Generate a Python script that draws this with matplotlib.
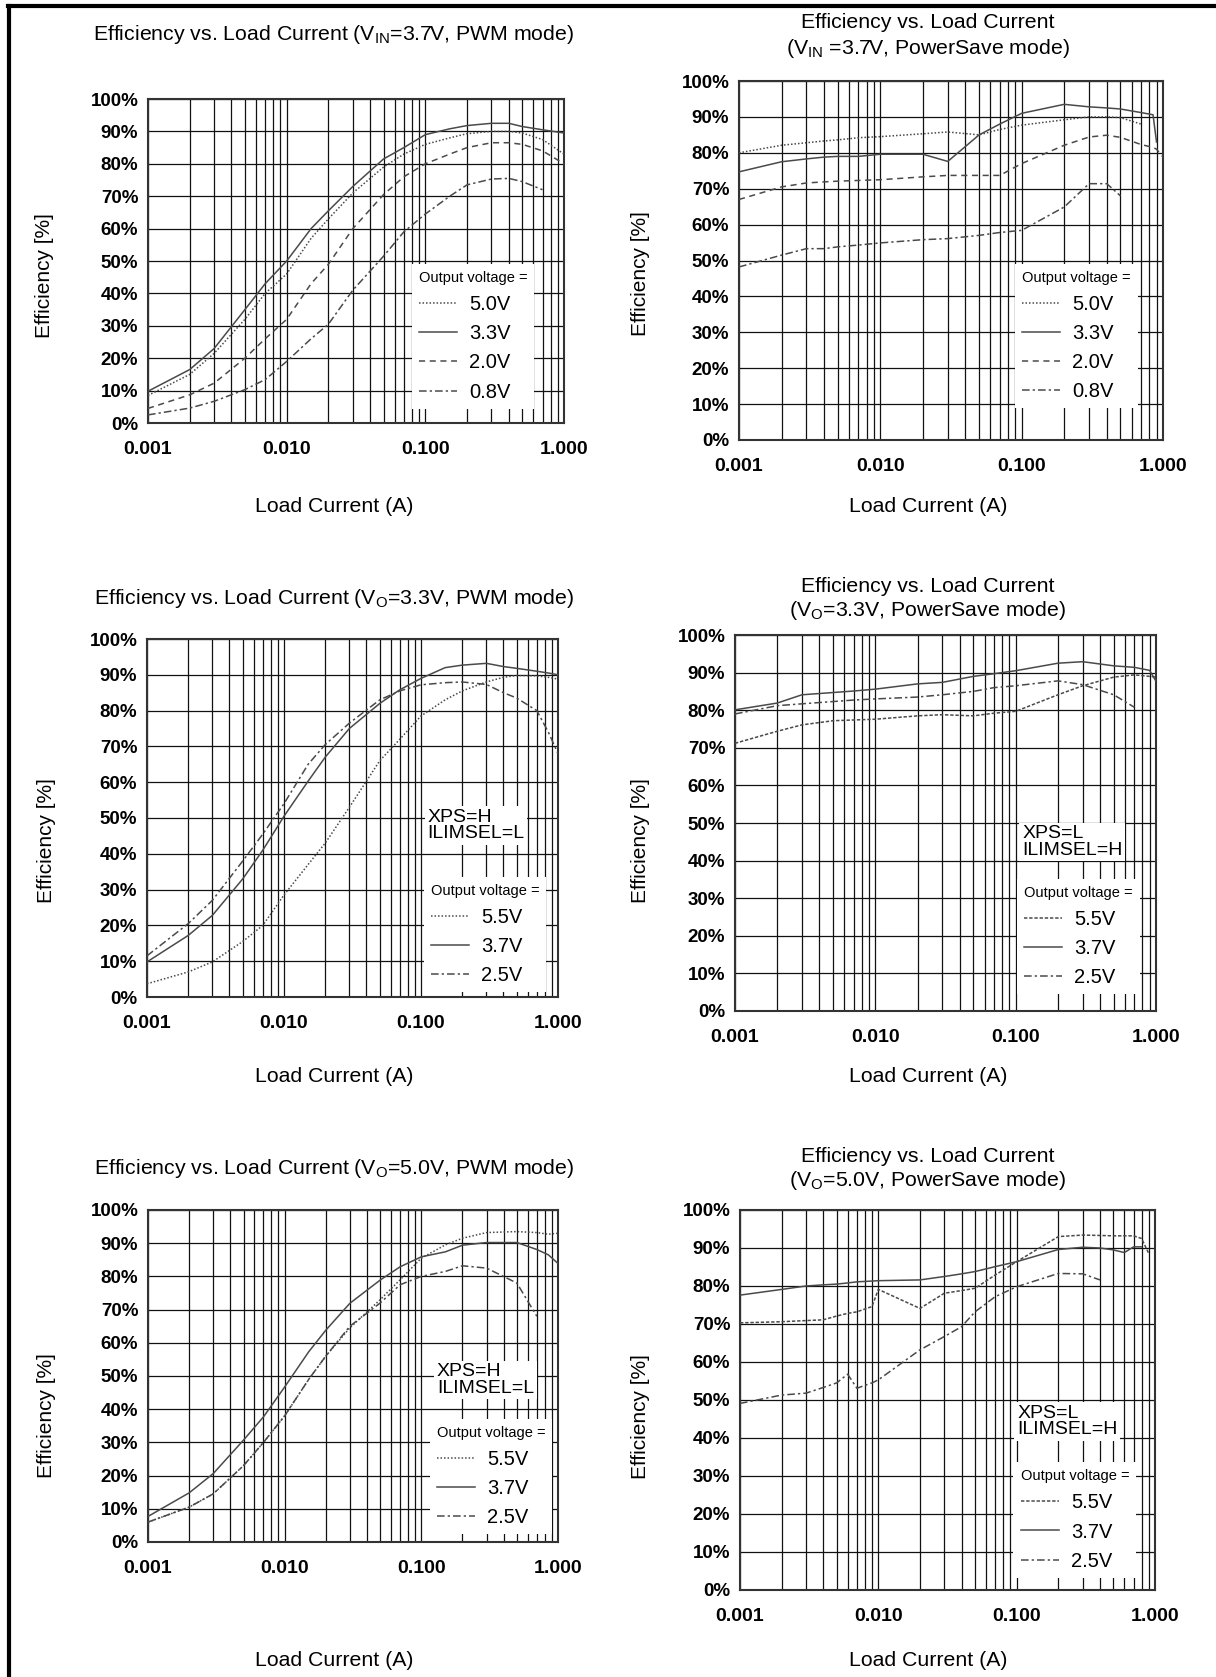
import numpy as np
import matplotlib
matplotlib.use('Agg')
import matplotlib.pyplot as plt
from matplotlib.ticker import LogLocator, NullFormatter
from matplotlib.lines import Line2D

plt.rcParams['font.family'] = ['Liberation Sans', 'DejaVu Sans']
plt.rcParams['mathtext.fontset'] = 'custom'
plt.rcParams['mathtext.rm'] = 'Liberation Sans'

W, H = 1216, 1677
nan = np.nan

# ---- data ----
# VIN = 3.7 V, PWM mode
pwm_vin37_current = [0.001, 0.002, 0.003, 0.005, 0.007, 0.01, 0.015, 0.02, 0.03, 0.05,
                     0.07, 0.1, 0.15, 0.2, 0.3, 0.4, 0.5, 0.7, 1.0]
pwm_vin37_50 = [8.5, 15, 21.5, 32, 40, 46, 57, 63, 71, 79, 83, 86, 88, 89.3, 90, 90, 89.5, 87.5, 83]
pwm_vin37_33 = [9.8, 16.5, 23, 35, 43, 50, 60, 65.5, 73, 81.5, 85, 89, 90.8, 91.8, 92.5, 92.5, 91.5, 90.5, 89.5]
pwm_vin37_20 = [4.5, 8.7, 12.3, 20, 26, 32, 43, 49, 60, 70.5, 76, 80, 83, 85, 86.5, 86.5, 86, 84, 80]
pwm_vin37_08 = [2.5, 4.6, 6.7, 10.3, 13.4, 19, 26, 30.5, 41, 51.5, 59, 64.5, 70, 73.5, 75.3, 75.5, 74.5, 72, nan]

# VIN = 3.7 V, PowerSave mode
ps_vin37_current = [0.001, 0.002, 0.003, 0.004, 0.005, 0.007, 0.01, 0.02, 0.03, 0.05,
                    0.07, 0.1, 0.2, 0.3, 0.4, 0.5, 0.7, 0.85, 0.9, 1.0]
ps_vin37_50 = [80.0, 82.1, 82.8, 83.3, 83.6, 84.2, 84.5, 85.3, 85.8, 85.0, 86.5, 87.7, 89.2, 90.0, 90.0, 89.8, 88.0, nan, nan, nan]
ps_vin37_33 = [74.7, 77.5, 78.3, 78.8, 79.0, 79.0, 79.6, 79.6, 77.6, 85.0, 88.0, 91.0, 93.5, 92.8, 92.5, 92.2, 91.2, 90.6, 83.0, nan]
ps_vin37_20 = [67.0, 70.5, 71.6, 71.9, 72.1, 72.3, 72.5, 73.3, 73.7, 73.7, 73.7, 77.0, 82.1, 84.4, 84.9, 84.3, 82.3, 81.5, 81.0, 78.8]
ps_vin37_08 = [48.2, 51.5, 53.3, 53.3, 53.8, 54.3, 54.9, 55.8, 56.1, 57.0, 57.8, 58.4, 64.9, 71.4, 71.4, 68.0, nan, nan, nan, nan]

# VO = 3.3 V, PWM mode
pwm_vo33_current = [0.001, 0.002, 0.003, 0.005, 0.007, 0.01, 0.015, 0.02, 0.03, 0.05,
                    0.07, 0.1, 0.15, 0.2, 0.3, 0.4, 0.5, 0.7, 0.85, 1.0]
pwm_vo33_55 = [3.7, 7, 9.8, 15.5, 20, 28.5, 37, 43, 53, 66, 72, 78.5, 83, 85.5, 88, 89.3, 89.8, 89.7, 89.3, 88.8]
pwm_vo33_37 = [9.8, 17.2, 22.8, 33, 41, 50.5, 60.3, 67, 75, 82, 85.8, 89, 92, 92.7, 93.2, 92.3, 91.8, 91, 90.5, 90]
pwm_vo33_25 = [11.5, 20.5, 27, 38, 45.5, 54, 65, 70.5, 76.5, 83, 85.5, 87.2, 87.8, 88, 87.3, 85, 83.5, 80, 74, 68]

# VO = 3.3 V, PowerSave mode
ps_vo33_current = [0.001, 0.002, 0.003, 0.005, 0.007, 0.01, 0.02, 0.03, 0.05, 0.07,
                   0.1, 0.2, 0.3, 0.5, 0.7, 0.9, 1.0]
ps_vo33_55 = [71.2, 74.4, 76.1, 77.2, 77.4, 77.6, 78.5, 78.8, 78.5, 79.2, 79.7, 84.1, 86.5, 88.8, 89.4, 89.0, 88.8]
ps_vo33_37 = [80.1, 81.9, 84.1, 84.7, 85.1, 85.6, 87.0, 87.4, 89.0, 89.7, 90.5, 92.5, 92.9, 91.8, 91.4, 90.6, 87.7]
ps_vo33_25 = [79.0, 81.2, 81.7, 82.3, 82.7, 83.0, 83.5, 84.1, 85.0, 86.0, 86.5, 87.8, 86.8, 84.1, 80.8, nan, nan]

# VO = 5.0 V, PWM mode
pwm_vo50_current = [0.001, 0.002, 0.003, 0.005, 0.007, 0.01, 0.015, 0.02, 0.03, 0.05,
                    0.07, 0.1, 0.15, 0.2, 0.3, 0.5, 0.7, 0.85, 1.0]
pwm_vo50_55 = [6, 10.5, 14.5, 23, 30, 38, 49, 56, 64.5, 73, 79, 85.5, 89.5, 91.5, 93.2, 93.5, 93.2, 92.7, 93]
pwm_vo50_37 = [7.7, 14.8, 20.6, 30.7, 37.7, 46.7, 57.3, 63.8, 71.9, 78.9, 82.9, 85.9, 87.4, 89.4, 90.2, 90.2, 88.1, 86.5, 83.9]
pwm_vo50_25 = [6, 10.5, 14.5, 23, 30, 38, 49, 56, 65, 72, 77.5, 80, 81.5, 83.2, 82.5, 78, 68, nan, nan]

# VO = 5.0 V, PowerSave mode
ps_vo50_current = [0.001, 0.002, 0.003, 0.004, 0.005, 0.006, 0.007, 0.009, 0.01, 0.02, 0.03, 0.04,
                   0.05, 0.07, 0.1, 0.2, 0.3, 0.4, 0.5, 0.6, 0.7, 0.8, 0.9]
ps_vo50_55 = [70.3, 70.6, 70.9, 71.1, 72.1, 72.8, 73.2, 74.6, 79.1, 74.1, 78.1, 78.8,
              79.4, 82.9, 86.4, 93.0, 93.4, 93.3, 93.2, 93.2, 93.2, 92.5, 88.6]
ps_vo50_37 = [77.6, 79.1, 80.0, 80.3, 80.5, 80.8, 81.1, 81.3, 81.4, 81.6, 82.5, 83.2,
              83.8, 85.1, 86.4, 89.6, 90.2, 90.0, 89.5, 88.8, 90.3, 90.3, nan]
ps_vo50_25 = [49.1, 51.3, 51.8, 53.3, 54.5, 56.8, 53.1, 54.5, 55.3, 63.2, 66.7, 69.3,
              73.2, 77.2, 79.8, 83.3, 83.2, 81.6, nan, nan, nan, nan, nan]

# ---- styles ----
CURVE = '#4a4a4a'
DOT = (0, (1, 1.3))
FINE = (0, (2.2, 1.2))
DASH = (0, (4, 3))
DASHDOT = (0, (5, 2, 1.5, 2))
SOLID = '-'

fig = plt.figure(figsize=(W / 100, H / 100), dpi=100)


def fx(px):
    return px / W


def fy(py):
    return 1 - py / H


def panel(box, title_lines, title_x, title_ys, ylab_xy, xlab_xy, currents, effs, labels,
          styles, leg_xy, note=None, note_xy=None):
    left, right, top, bottom = box
    ax = fig.add_axes([fx(left), fy(bottom), (right - left) / W, (bottom - top) / H])
    handles = []
    for eff, ls in zip(effs, styles):
        h, = ax.plot(currents, eff, color=CURVE, lw=1.1, linestyle=ls, zorder=3)
        handles.append(h)
    ax.set_xscale('log')
    ax.set_xlim(0.001, 1.0)
    ax.set_ylim(0, 100)
    ax.set_xticks([0.001, 0.01, 0.1, 1.0])
    ax.set_xticklabels(['0.001', '0.010', '0.100', '1.000'], fontweight='bold', fontsize=14)
    ax.xaxis.set_minor_locator(LogLocator(base=10, subs=np.arange(2, 10)))
    ax.xaxis.set_minor_formatter(NullFormatter())
    ax.set_yticks(np.arange(0, 101, 10))
    ax.set_yticklabels([f'{v}%' for v in range(0, 101, 10)], fontweight='bold', fontsize=13.5)
    ax.tick_params(which='both', length=0)
    ax.tick_params(axis='x', pad=13)
    ax.tick_params(axis='y', pad=7)
    ax.grid(True, which='both', axis='x', color='#111111', lw=0.9)
    ax.grid(True, which='major', axis='y', color='#111111', lw=0.9)
    ax.set_axisbelow(True)
    for s in ax.spines.values():
        s.set_color('#333333')
        s.set_linewidth(1.5)

    leg = ax.legend(handles, labels, title='Output voltage =', title_fontsize=10.5, fontsize=14.5,
                    loc='upper left', bbox_to_anchor=leg_xy, borderaxespad=0, frameon=True,
                    fancybox=False, edgecolor='none', facecolor='white', framealpha=1,
                    handlelength=1.9, handletextpad=0.6, labelspacing=0.5, borderpad=0.35,
                    alignment='left')
    leg.set_zorder(10)

    if note:
        ax.text(note_xy[0], note_xy[1], note, transform=ax.transAxes, ha='left', va='top',
                fontsize=14, linespacing=0.95, zorder=11,
                bbox=dict(facecolor='white', edgecolor='none', pad=2))

    for line, ty in zip(title_lines, title_ys):
        fig.text(fx(title_x), fy(ty), line, ha='center', va='center', fontsize=15.3)
    fig.text(fx(ylab_xy[0]), fy(ylab_xy[1]), 'Efficiency [%]', rotation=90,
             ha='center', va='center', fontsize=15)
    fig.text(fx(xlab_xy[0]), fy(xlab_xy[1]), 'Load Current (A)', ha='center', va='center',
             fontsize=15.3)
    return ax


labels_vin = ['5.0V', '3.3V', '2.0V', '0.8V']
labels_vo = ['5.5V', '3.7V', '2.5V']

panel((148, 564, 99, 423),
      [r'Efficiency vs. Load Current (V$_\mathregular{IN}$=3.7V, PWM mode)'], 334, [34],
      (45, 276), (334, 507),
      pwm_vin37_current, [pwm_vin37_50, pwm_vin37_33, pwm_vin37_20, pwm_vin37_08],
      labels_vin, [DOT, SOLID, DASH, DASHDOT], (0.634, 0.49))

panel((739, 1163, 81, 440),
      ['Efficiency vs. Load Current', r'(V$_\mathregular{IN}$ =3.7V, PowerSave mode)'], 928, [23, 48],
      (641, 274), (928, 507),
      ps_vin37_current, [ps_vin37_50, ps_vin37_33, ps_vin37_20, ps_vin37_08],
      labels_vin, [DOT, SOLID, DASH, DASHDOT], (0.651, 0.49))

panel((147, 558, 639, 997),
      [r'Efficiency vs. Load Current (V$_\mathregular{O}$=3.3V, PWM mode)'], 334, [599],
      (47, 841), (334, 1077),
      pwm_vo33_current, [pwm_vo33_55, pwm_vo33_37, pwm_vo33_25],
      labels_vo, [DOT, SOLID, DASHDOT], (0.673, 0.335),
      'XPS=H\nILIMSEL=L', (0.682, 0.525))

panel((735, 1156, 635, 1011),
      ['Efficiency vs. Load Current', r'(V$_\mathregular{O}$=3.3V, PowerSave mode)'], 928, [587, 610],
      (641, 841), (928, 1077),
      ps_vo33_current, [ps_vo33_55, ps_vo33_37, ps_vo33_25],
      labels_vo, [FINE, SOLID, DASHDOT], (0.670, 0.352),
      'XPS=L\nILIMSEL=H', (0.682, 0.494))

panel((148, 558, 1210, 1542),
      [r'Efficiency vs. Load Current (V$_\mathregular{O}$=5.0V, PWM mode)'], 334, [1169],
      (46.5, 1416), (334, 1660),
      pwm_vo50_current, [pwm_vo50_55, pwm_vo50_37, pwm_vo50_25],
      labels_vo, [DOT, SOLID, DASHDOT], (0.687, 0.37),
      'XPS=H\nILIMSEL=L', (0.705, 0.538))

panel((740, 1155, 1210, 1590),
      ['Efficiency vs. Load Current', r'(V$_\mathregular{O}$=5.0V, PowerSave mode)'], 928, [1157, 1180],
      (641, 1417), (928, 1660),
      ps_vo50_current, [ps_vo50_55, ps_vo50_37, ps_vo50_25],
      labels_vo, [FINE, SOLID, DASHDOT], (0.659, 0.336),
      'XPS=L\nILIMSEL=H', (0.668, 0.488))

# page frame (left and top edges)
fig.add_artist(Line2D([fx(9), fx(9)], [0, fy(5.5)], transform=fig.transFigure, color='black', lw=3))
fig.add_artist(Line2D([fx(7.5), 1], [fy(5.5), fy(5.5)], transform=fig.transFigure, color='black', lw=3))

fig.savefig('out.png', dpi=100, facecolor='white')
